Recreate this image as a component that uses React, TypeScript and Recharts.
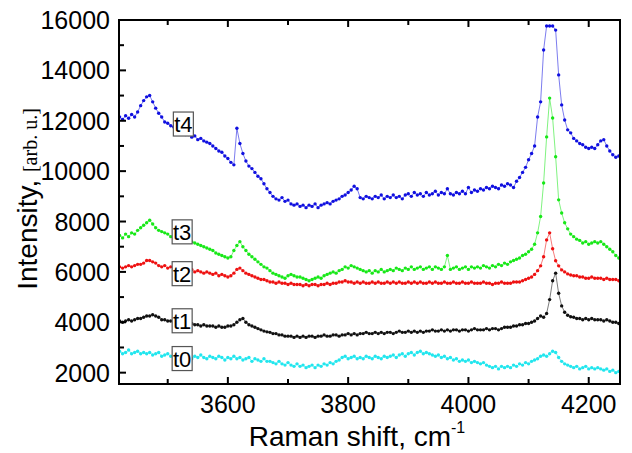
import React from 'react';
import { LineChart, Line, XAxis, YAxis, ReferenceDot } from 'recharts';

// Raman shift grid, cm-1 (uniform sampling)
const X_START = 3420;
const X_STEP = 5;

// intensities, arb. u., one value per grid point (3420 ... 4250)
const T4 = [
  12150, 12050, 12200, 12100, 12250, 12150, 12350, 12600, 12800, 12950,
  13000, 12750, 12500, 12300, 12150, 11950, 11900, 11800, 11750, 11700,
  11550, 11500, 11450, 11450, 11350, 11400, 11250, 11300, 11200, 11150,
  11100, 11000, 10900, 10800, 10750, 10600, 10500, 10350, 10250, 11700,
  11100, 10700, 10400, 10200, 10100, 9950, 9800, 9700, 9500, 9300,
  9150, 9000, 8900, 8850, 8950, 8800, 8850, 8700, 8650, 8700,
  8600, 8650, 8550, 8650, 8600, 8700, 8550, 8650, 8700, 8750,
  8700, 8800, 8850, 8900, 9000, 9050, 9150, 9250, 9400, 9300,
  8950, 8900, 9000, 8950, 8900, 9000, 8950, 9050, 8900, 9000,
  8950, 9050, 8950, 9000, 8900, 9050, 9100, 9000, 9150, 9050,
  9100, 9000, 9150, 9050, 9100, 9200, 9050, 9150, 9100, 9300,
  9100, 9050, 9150, 9100, 9200, 9100, 9350, 9150, 9250, 9200,
  9300, 9250, 9350, 9300, 9400, 9350, 9300, 9450, 9400, 9500,
  9450, 9350, 9600, 9750, 9950, 10150, 10450, 10700, 11000, 12150,
  12750, 14810, 15760, 15760, 15760, 15600, 13820, 12630, 12030, 11640,
  11520, 11300, 11200, 11100, 11050, 10950, 10900, 10950, 10900, 11050,
  11200, 11250, 11000, 10800, 10650, 10550, 10600,
];

const T3 = [
  7450, 7350, 7500, 7400, 7550, 7500, 7650, 7750, 7850, 7950,
  8050, 7900, 7750, 7650, 7600, 7550, 7500, 7400, 7450, 7350,
  7350, 7300, 7250, 7300, 7200, 7150, 7100, 7050, 7000, 6950,
  6900, 6850, 6750, 6700, 6650, 6600, 6550, 6600, 6850, 7050,
  7200, 7000, 6850, 6700, 6600, 6500, 6400, 6300, 6200, 6150,
  6050, 5950, 5900, 5850, 5800, 5750, 5850, 5900, 5850, 5800,
  5800, 5750, 5700, 5650, 5700, 5750, 5800, 5750, 5850, 5900,
  5950, 6000, 5950, 6050, 6100, 6200, 6150, 6250, 6200, 6150,
  6100, 6050, 6000, 6050, 5950, 6050, 6000, 6100, 6000, 6050,
  6100, 6050, 6150, 6100, 6050, 6150, 6100, 6200, 6100, 6150,
  6200, 6100, 6150, 6200, 6100, 6200, 6150, 6100, 6200, 6650,
  6100, 6150, 6200, 6100, 6150, 6200, 6100, 6200, 6150, 6200,
  6150, 6250, 6200, 6150, 6250, 6200, 6300, 6250, 6350, 6300,
  6400, 6450, 6500, 6550, 6650, 6700, 6800, 6900, 7100, 7550,
  8200, 9530, 11360, 12900, 12110, 10570, 8860, 8340, 7950, 7710,
  7500, 7400, 7300, 7250, 7150, 7200, 7100, 7150, 7200, 7150,
  7200, 7100, 7000, 6900, 6800, 6650, 6550,
];

const T2 = [
  6200, 6150, 6200, 6250, 6200, 6250, 6300, 6300, 6350, 6450,
  6450, 6400, 6350, 6250, 6200, 6250, 6150, 6200, 6150, 6100,
  6100, 6050, 6100, 6050, 6100, 6000, 6050, 6000, 5950, 6000,
  5950, 5900, 5950, 5850, 5900, 5850, 5800, 5850, 5950, 6100,
  6150, 6050, 5950, 5900, 5850, 5800, 5750, 5700, 5700, 5650,
  5600, 5600, 5550, 5600, 5550, 5550, 5500, 5550, 5500, 5500,
  5500, 5450, 5500, 5450, 5500, 5500, 5450, 5500, 5500, 5550,
  5500, 5550, 5550, 5600, 5600, 5650, 5600, 5600, 5550, 5600,
  5550, 5600, 5550, 5550, 5600, 5550, 5600, 5550, 5550, 5600,
  5550, 5600, 5550, 5600, 5550, 5550, 5600, 5550, 5600, 5550,
  5600, 5550, 5550, 5600, 5550, 5600, 5550, 5550, 5600, 5550,
  5550, 5600, 5550, 5550, 5600, 5550, 5550, 5600, 5550, 5550,
  5550, 5600, 5550, 5550, 5500, 5550, 5550, 5600, 5550, 5550,
  5550, 5600, 5600, 5600, 5650, 5700, 5750, 5800, 5900, 6050,
  6240, 6600, 7270, 7550, 6920, 6440, 6240, 6080, 6000, 5920,
  5880, 5850, 5850, 5800, 5800, 5750, 5750, 5800, 5750, 5750,
  5750, 5700, 5750, 5700, 5700, 5700, 5650,
];

const T1 = [
  4050, 4000, 4050, 4100, 4050, 4100, 4150, 4150, 4200, 4250,
  4250, 4300, 4250, 4200, 4100, 4100, 4050, 4050, 4000, 4000,
  3980, 3950, 3950, 3900, 3950, 3900, 3900, 3850, 3900, 3850,
  3850, 3850, 3800, 3850, 3800, 3800, 3850, 3850, 3900, 4000,
  4100, 4150, 4000, 3900, 3850, 3800, 3750, 3700, 3650, 3620,
  3600, 3550, 3550, 3500, 3500, 3450, 3450, 3450, 3400, 3450,
  3400, 3450, 3400, 3450, 3450, 3400, 3450, 3450, 3500, 3450,
  3450, 3500, 3500, 3450, 3500, 3500, 3550, 3500, 3550, 3500,
  3550, 3550, 3600, 3550, 3550, 3600, 3550, 3600, 3550, 3600,
  3600, 3550, 3600, 3650, 3600, 3600, 3650, 3600, 3650, 3600,
  3650, 3600, 3650, 3650, 3700, 3650, 3650, 3700, 3650, 3700,
  3650, 3700, 3700, 3650, 3700, 3700, 3650, 3700, 3750, 3700,
  3700, 3700, 3750, 3700, 3750, 3750, 3700, 3750, 3800, 3800,
  3800, 3850, 3850, 3900, 3900, 3950, 3950, 4000, 4050, 4150,
  4250, 4200, 4350, 4900, 5650, 5950, 5150, 4650, 4400, 4280,
  4220, 4200, 4150, 4150, 4100, 4150, 4100, 4150, 4100, 4100,
  4100, 4050, 4100, 4050, 4000, 4000, 3950,
];

const T0 = [
  2850, 2750, 2800, 2900, 2750, 2800, 2850, 2750, 2800, 2750,
  2800, 2700, 2750, 2800, 2650, 2700, 2750, 2650, 2700, 2600,
  2650, 2700, 2600, 2650, 2550, 2650, 2600, 2700, 2600, 2550,
  2650, 2600, 2550, 2650, 2600, 2500, 2600, 2550, 2650, 2550,
  2600, 2500, 2550, 2600, 2450, 2550, 2500, 2450, 2550, 2450,
  2450, 2400, 2350, 2450, 2350, 2300, 2400, 2300, 2250, 2350,
  2250, 2300, 2200, 2250, 2300, 2200, 2300, 2250, 2350, 2300,
  2400, 2350, 2450, 2500, 2600, 2650, 2550, 2600, 2650, 2550,
  2600, 2550, 2650, 2600, 2550, 2650, 2600, 2550, 2650, 2600,
  2650, 2700, 2600, 2700, 2750, 2650, 2750, 2800, 2700, 2800,
  2850, 2750, 2800, 2750, 2700, 2650, 2700, 2600, 2650, 2550,
  2600, 2500, 2550, 2450, 2500, 2450, 2500, 2400, 2450, 2400,
  2350, 2400, 2300, 2250, 2200, 2250, 2150, 2250, 2200, 2250,
  2200, 2300, 2250, 2350, 2300, 2400, 2350, 2450, 2500, 2550,
  2650, 2700, 2650, 2750, 2850, 2800, 2600, 2450, 2350, 2300,
  2250, 2200, 2250, 2150, 2200, 2250, 2150, 2200, 2150, 2200,
  2150, 2100, 2150, 2050, 2100, 2000, 2050,
];

const X_TICKS = [3500, 3600, 3700, 3800, 3900, 4000, 4100, 4200];
const Y_TICKS = [2000, 3000, 4000, 5000, 6000, 7000, 8000, 9000, 10000, 11000, 12000, 13000, 14000, 15000, 16000];

const SERIES = [
  { key: 't0', color: '#22E6EE', values: T0, tagX: 3524, tagY: 2560 },
  { key: 't1', color: '#111111', values: T1, tagX: 3524, tagY: 4060 },
  { key: 't2', color: '#EE1111', values: T2, tagX: 3524, tagY: 5930 },
  { key: 't3', color: '#18E818', values: T3, tagX: 3524, tagY: 7590 },
  { key: 't4', color: '#1010E0', values: T4, tagX: 3526, tagY: 11870 },
];

const rows = T0.map((_, i) => {
  const row: Record<string, number> = { x: X_START + i * X_STEP };
  SERIES.forEach((s) => {
    row[s.key] = s.values[i];
  });
  return row;
});

const FONT = '"Liberation Sans", Arial, sans-serif';
const W = 632;
const H = 453;
const M = { top: 20, right: 12, bottom: 0, left: 0 };
const Y_AXIS_W = 119;
const X_AXIS_H = 69;
const L = M.left + Y_AXIS_W;
const T = M.top;
const R = W - M.right;
const B = H - M.bottom - X_AXIS_H;
const FRAME_W = 2;

const XTick = (props: any) => {
  const { x, y, payload } = props;
  const major = payload.value % 200 === 0;
  const len = major ? 7 : 5;
  return (
    <g>
      <rect x={x - 1} y={y - len} width={2} height={len} fill="#000" />
      <rect x={x - 1} y={T} width={2} height={len} fill="#000" />
      {major && (
        <text x={x} y={y + 29} textAnchor="middle" fontSize={25} fontFamily={FONT} fill="#000">
          {payload.value}
        </text>
      )}
    </g>
  );
};

const YTick = (props: any) => {
  const { x, y, payload } = props;
  const major = payload.value % 2000 === 0;
  const len = major ? 7 : 5;
  return (
    <g>
      <rect x={x} y={y - 1} width={len} height={2} fill="#000" />
      {major && (
        <text x={x - 9} y={y + 9} textAnchor="end" fontSize={25} fontFamily={FONT} fill="#000">
          {payload.value}
        </text>
      )}
    </g>
  );
};

const Tag = (props: any) => {
  const { cx, cy, text } = props;
  return (
    <g>
      <rect x={cx - 10} y={cy - 12} width={20} height={24} fill="#fff" stroke="#555" strokeWidth={1.2} />
      <text x={cx} y={cy + 8} textAnchor="middle" fontSize={22} fontFamily={FONT} fill="#000">
        {text}
      </text>
    </g>
  );
};

export default function App() {
  return (
    <div style={{ position: 'fixed', left: 0, top: 0, width: W, height: H, background: '#fff' }}>
      <LineChart width={W} height={H} data={rows} margin={M}>
        <XAxis
          dataKey="x"
          type="number"
          domain={[3419, 4252]}
          allowDataOverflow
          ticks={X_TICKS}
          interval={0}
          height={X_AXIS_H}
          tickSize={0}
          tickMargin={0}
          tickLine={false}
          axisLine={false}
          tick={(p: any) => <XTick {...p} />}
        />
        <YAxis
          type="number"
          domain={[1550, 16000]}
          allowDataOverflow
          ticks={Y_TICKS}
          interval={0}
          width={Y_AXIS_W}
          tickSize={0}
          tickMargin={0}
          tickLine={false}
          axisLine={false}
          tick={(p: any) => <YTick {...p} />}
        />
        {SERIES.map((s) => (
          <Line
            key={s.key}
            dataKey={s.key}
            stroke={s.color}
            strokeOpacity={0.55}
            strokeWidth={1}
            dot={{ r: 1.7, fill: s.color, stroke: 'none' }}
            isAnimationActive={false}
          />
        ))}
        {SERIES.map((s) => (
          <ReferenceDot
            key={`tag-${s.key}`}
            x={s.tagX}
            y={s.tagY}
            ifOverflow="visible"
            shape={(p: any) => <Tag {...p} text={s.key} />}
          />
        ))}
      </LineChart>
      <svg width={W} height={H} style={{ position: 'absolute', left: 0, top: 0, pointerEvents: 'none' }}>
        {/* plot frame */}
        <rect x={L - 1} y={T - 1} width={R - L + 2} height={FRAME_W} fill="#000" />
        <rect x={L - 1} y={B - 1} width={R - L + 2} height={FRAME_W} fill="#000" />
        <rect x={L - 1} y={T - 1} width={FRAME_W} height={B - T + 2} fill="#000" />
        <rect x={R - 1} y={T - 1} width={FRAME_W} height={B - T + 2} fill="#000" />
        <text x={357} y={446} textAnchor="middle" fontSize={28} fontFamily={FONT} fill="#000">
          Raman shift, cm
          <tspan fontSize={16} dy={-13}>-1</tspan>
        </text>
        <text
          transform="translate(37 199) rotate(-90)"
          textAnchor="middle"
          fontSize={28}
          fontFamily={FONT}
          fill="#000"
        >
          Intensity,{' '}
          <tspan fontSize={20} fontFamily='"Liberation Serif", "Times New Roman", serif'>
            [arb. u.]
          </tspan>
        </text>
      </svg>
    </div>
  );
}
